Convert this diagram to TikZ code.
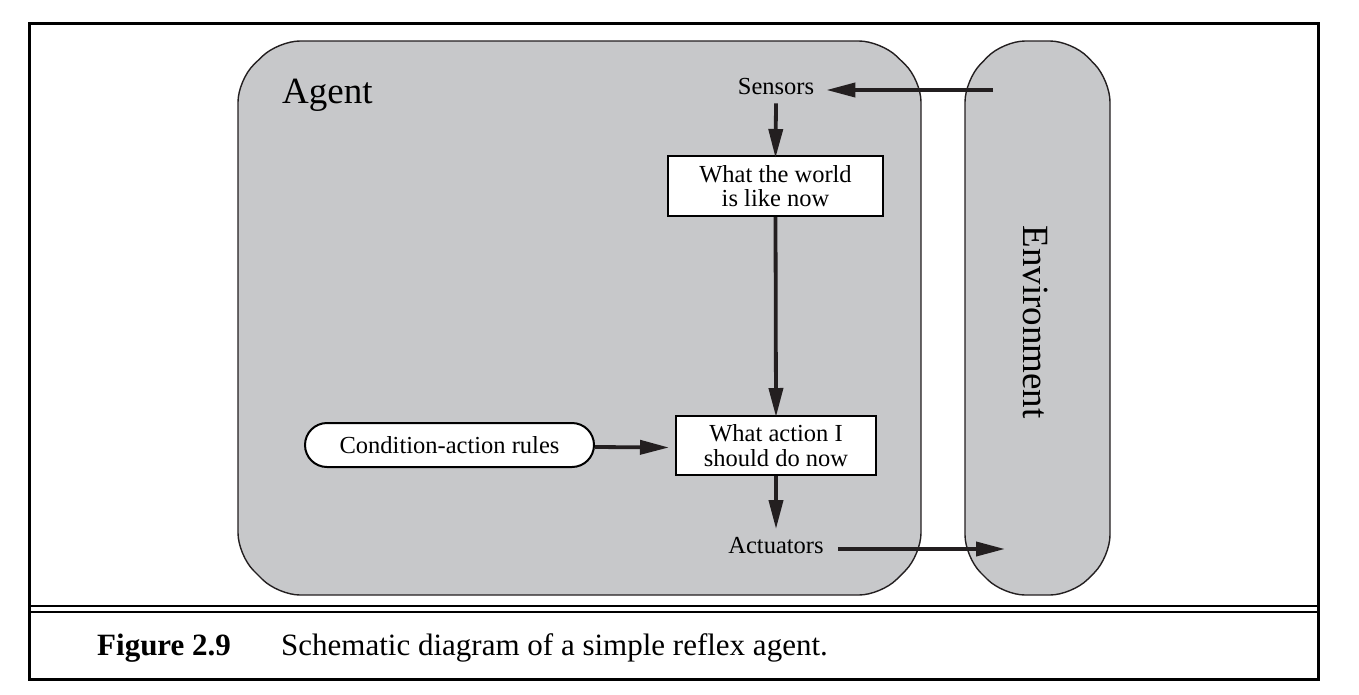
\documentclass[tikz,border=0pt]{standalone}
\usepackage{fontspec}
\setmainfont{Liberation Serif}
\usetikzlibrary{arrows.meta,calc}
\definecolor{panelgray}{RGB}{199,200,202}
\definecolor{inkdark}{RGB}{35,31,32}
\tikzset{
  panel/.style={fill=panelgray,draw=inkdark,line width=1.4pt,rounded corners=22pt},
  arr/.style={draw=inkdark,line width=3.8pt,-{Triangle[length=29pt,width=14pt]}},
  boxnode/.style={draw=black,fill=white,line width=2pt,align=center,inner sep=0pt,
     font=\fontsize{24.5}{24.5}\selectfont},
  lbl/.style={inner sep=8pt,font=\fontsize{24.5}{25}\selectfont},
  bigl/.style={inner sep=0pt,font=\fontsize{37}{40}\selectfont}
}
\begin{document}
\begin{tikzpicture}[x=1pt,y=-1pt]
\useasboundingbox (0,0) rectangle (1359,694);
% outer frame
\draw[line width=3pt] (29,23) rectangle (1318,679);
\draw[line width=2pt] (29,606) -- (1318,606);
\draw[line width=2pt] (29,611.5) -- (1318,611.5);
% agent panel
\path[panel] (238,80) -- (238,555) -- (278,595) -- (881,595) -- (921,555)
  -- (921,80) -- (881,41) -- (278,41) -- cycle;
% environment panel
\path[panel] (965,80) -- (965,557) -- (1003,595) -- (1072,595) -- (1110,557)
  -- (1110,80) -- (1072,41) -- (1003,41) -- cycle;
% labels
\node[bigl,anchor=base west] (agent) at (282,103) {Agent};
\node[bigl,rotate=-90] (env) at (1036,322) {Environment};
% nodes
\node[lbl] (sens) at (776,87) {Sensors};
\node[boxnode,minimum width=215pt,minimum height=60pt] (world) at (775.5,186)
  {What the world\\is like now};
\node[boxnode,minimum width=200pt,minimum height=59pt] (action) at (776,445.5)
  {What action I\\should do now};
\node[boxnode,rounded corners=22pt,minimum width=289pt,minimum height=44pt] (rules)
  at (449.5,445) {Condition-action rules};
\node[lbl] (act) at (776,545.5) {Actuators};
\coordinate (envin) at (993,90);
\coordinate (envout) at (1005,549);
% connectors
\draw[arr] (envin) -- ([xshift=4pt]sens.east |- envin);
\draw[arr] (sens.south) -- ([yshift=-3pt]world.north);
\draw[arr] (world.south) -- ([yshift=-2pt]action.north);
\draw[arr] ($(rules.east)+(0,2)$) -- ($(action.west)+(-6,2)$);
\draw[arr] (action.south) -- (act.north);
\draw[arr] ([xshift=6pt]act.east |- envout) -- (envout);
% caption
\node[anchor=base west,inner sep=0pt,font=\fontsize{31}{34}\selectfont\bfseries] (fig)
  at (97,655) {Figure 2.9};
\node[anchor=base west,inner sep=0pt,font=\fontsize{31}{34}\selectfont] (cap)
  at (281,655) {Schematic diagram of a simple reflex agent.};
\end{tikzpicture}
\end{document}
